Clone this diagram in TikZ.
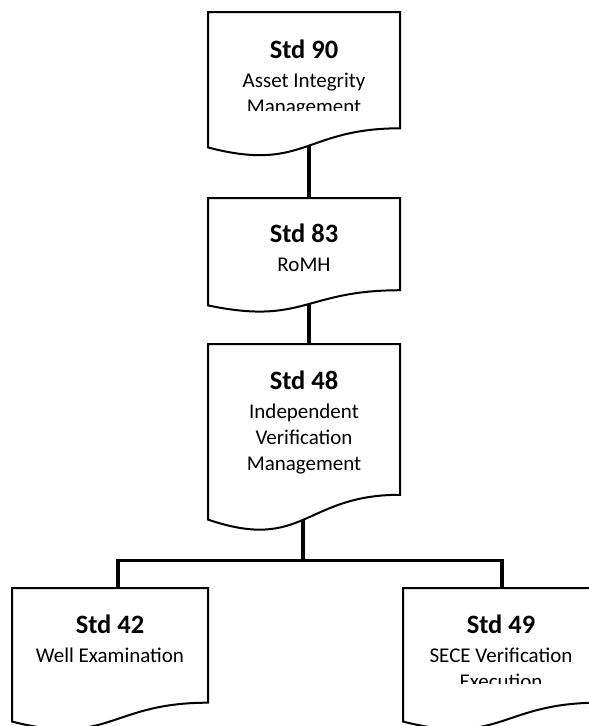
\documentclass[tikz,border=0pt]{standalone}
\usepackage{fontspec}
\setmainfont{Carlito}
\usetikzlibrary{calc}

\tikzset{
  docbox/.style={minimum width=192pt, inner sep=0pt, outer sep=0pt},
  docline/.style={draw=black, line width=2pt, fill=white},
  link/.style={line width=3.6pt},
  stdtext/.style={align=center, inner sep=0pt, anchor=base, font=\fontsize{21}{26}\selectfont},
}
\newcommand{\stdhead}[1]{{\fontsize{26.5}{30}\selectfont\bfseries #1}}
% document outline round a (blank) node
\newcommand{\docshape}[1]{%
  \draw[docline] (#1.north west) -- (#1.north east)
    -- ($(#1.north east)!0.802!(#1.south east)$)
    .. controls ($(#1.north)!0.802!(#1.south)$) and ($(#1.north)!1.108!(#1.south)$)
    .. ($(#1.north west)!0.934!(#1.south west)$) -- cycle;}

\begin{document}
\begin{tikzpicture}[x=1pt, y=-1pt]
\useasboundingbox (0,0) rectangle (589,726);
\clip (0,0) rectangle (589,726);
% boxes
\node[docbox, minimum height=145pt] (s90) at (304,84.5) {};
\node[docbox, minimum height=115pt] (s83) at (304,255.5) {};
\node[docbox, minimum height=188pt] (s48) at (304,438) {};
\node[docbox, minimum width=196pt, minimum height=143pt] (s42) at (110,659.5) {};
\node[docbox, minimum width=196pt, minimum height=143pt] (s49) at (501,659.5) {};
% links
\draw[link] ([xshift=5pt]s90.center) -- ([xshift=5pt]s83.center);
\draw[link] ([xshift=5pt]s83.center) -- ([xshift=5pt]s48.center);
\coordinate (split) at (303,560.5);
\draw[link] (split |- s48.center) -- (split);
\draw[link] ([xshift=8pt]s42.center) |- (split) -| ([xshift=1pt]s49.center);
% outlines
\docshape{s90}
\docshape{s83}
\docshape{s48}
\docshape{s42}
\docshape{s49}
% texts (base = last line)
\begin{scope}
\clip (s90.north west) rectangle ([yshift=-98pt]s90.north east);
\node[stdtext] (t90) at ([yshift=-101pt]s90.north) {\stdhead{Std 90}\\[3pt]Asset Integrity\\Management};
\end{scope}
\node[stdtext] (t83) at ([yshift=-73pt]s83.north) {\stdhead{Std 83}\\[3pt]RoMH};
\node[stdtext] (t48) at ([yshift=-126pt]s48.north) {\stdhead{Std 48}\\[3pt]Independent\\Verification\\Management};
\node[stdtext] (t42) at ([yshift=-74pt]s42.north) {\stdhead{Std 42}\\[3pt]Well Examination};
\begin{scope}
\clip (s49.north west) rectangle ([yshift=-95pt]s49.north east);
\node[stdtext] (t49) at ([yshift=-100pt]s49.north) {\stdhead{Std 49}\\[3pt]SECE Verification\\Execution};
\end{scope}
\end{tikzpicture}
\end{document}
